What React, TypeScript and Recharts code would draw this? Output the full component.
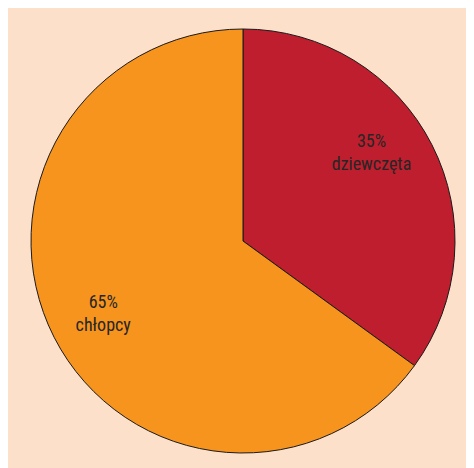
import { PieChart, Pie, Cell } from "recharts";

const labels = ["dziewczęta", "chłopcy"];
const shares = [35, 65];
const colors = ["#be1e2d", "#f7941d"];

const data = labels.map((name, i) => ({ name, value: shares[i] }));

const RADIAN = Math.PI / 180;

// two-line label inside each slice: "35%" over the name
const renderLabel = (props: any) => {
  const { cx, cy, midAngle, outerRadius, index } = props;
  const r = outerRadius * 0.74;
  // red label sits a bit higher than its mid angle
  const angle = midAngle + (index === 0 ? 8 : 0);
  const x = cx + r * Math.cos(-angle * RADIAN);
  const y = cy + r * Math.sin(-angle * RADIAN);
  return (
    <text
      x={x}
      y={y}
      textAnchor="middle"
      fill="#262626"
      fontSize={18}
      fontFamily="'Liberation Sans Narrow', 'Roboto Condensed', 'Liberation Sans', sans-serif"
    >
      <tspan x={x} dy={-4}>{`${shares[index]}%`}</tspan>
      <tspan x={x} dy={23}>{labels[index]}</tspan>
    </text>
  );
};

export default function App() {
  return (
    <div style={{ marginLeft: -1, width: 467, height: 460, background: "#fde0c9" }}>
      <PieChart width={467} height={460}>
        <Pie
          data={data}
          dataKey="value"
          cx={231}
          cy={228}
          outerRadius={212}
          startAngle={90}
          endAngle={-270}
          stroke="#1a1a1a"
          strokeWidth={1}
          label={renderLabel}
          labelLine={false}
          isAnimationActive={false}
        >
          {data.map((d, i) => (
            <Cell key={d.name} fill={colors[i]} />
          ))}
        </Pie>
      </PieChart>
    </div>
  );
}
